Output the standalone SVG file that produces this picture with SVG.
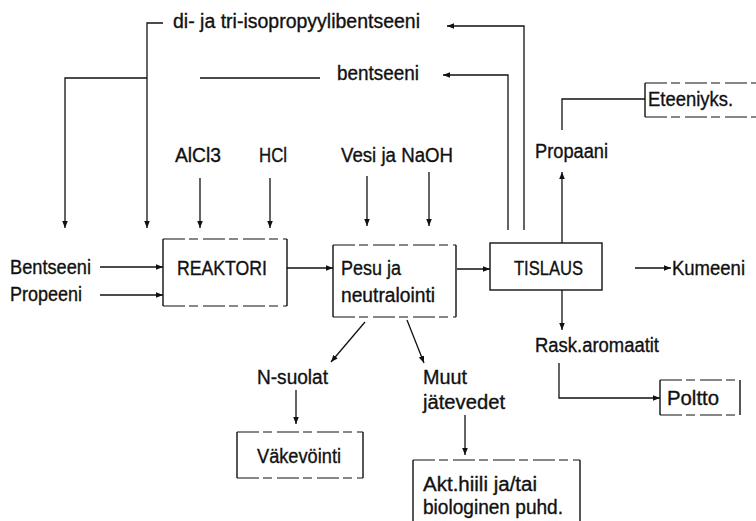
<svg xmlns="http://www.w3.org/2000/svg" width="756" height="521" viewBox="0 0 756 521">
<style>
text{font-family:"Liberation Sans",Arial,sans-serif;font-size:20px;fill:#111;stroke:#111;stroke-width:0.35}
.c{fill:none;stroke:#111;stroke-width:1.3}
.a{marker-end:url(#ah)}
.side{fill:none;stroke:#111;stroke-width:1.4}
.edge{fill:none;stroke:#111;stroke-width:1.2;stroke-dasharray:22 4 9 5}
.solid{fill:none;stroke:#111;stroke-width:1.4}
</style>
<defs>
<marker id="ah" viewBox="0 0 10 10" refX="10" refY="5" markerWidth="7" markerHeight="7" markerUnits="userSpaceOnUse" orient="auto">
<path d="M0,1 L10,5 L0,9 Z" fill="#111"/>
</marker>
</defs>
<rect width="756" height="521" fill="#fff"/>
<g id="connectors">
<path class="c a" d="M524,230 V26 H447"/>
<path class="c a" d="M163,23 H147 V228"/>
<path class="c a" d="M508,230 V75 H443"/>
<path class="c" d="M320,78 H200"/>
<path class="c a" d="M147,78 H65 V228"/>
<path class="c a" d="M200,178 V228"/>
<path class="c a" d="M270,178 V228"/>
<path class="c a" d="M367,176 V226"/>
<path class="c a" d="M429,172 V226"/>
<path class="c a" d="M100,267 H163"/>
<path class="c a" d="M100,295 H163"/>
<path class="c a" d="M287,268 H333"/>
<path class="c a" d="M457,269 H490"/>
<path class="c a" d="M635,268 H671"/>
<path class="c a" d="M562,243 V172"/>
<path class="c" d="M562,130 V99 H645"/>
<path class="c a" d="M562,290 V330"/>
<path class="c a" d="M559,363 V398 H660"/>
<path class="c a" d="M365,322 L331,362"/>
<path class="c a" d="M407,320 L424,363"/>
<path class="c a" d="M296,390 V424"/>
<path class="c a" d="M465,415 V455"/>
</g>
<g id="reaktori">
<path class="side" d="M163,239 V306 M287,239 V306"/>
<path class="edge" d="M163,239 H287 M163,306 H287"/>
<text x="177" y="275" textLength="90" lengthAdjust="spacingAndGlyphs">REAKTORI</text>
</g>
<g id="pesu">
<path class="side" d="M333,245 V317 M456,245 V317"/>
<path class="edge" d="M333,245 H456 M333,317 H456"/>
<text x="341" y="275" textLength="60" lengthAdjust="spacingAndGlyphs">Pesu ja</text>
<text x="341" y="302" textLength="94" lengthAdjust="spacingAndGlyphs">neutralointi</text>
</g>
<g id="tislaus">
<rect class="solid" x="490" y="243" width="112" height="47"/>
<text x="514" y="275" textLength="69" lengthAdjust="spacingAndGlyphs">TISLAUS</text>
</g>
<g id="eteeniyks">
<path class="side" d="M645,83 V117"/>
<path class="edge" d="M645,83 H760 M645,117 H760"/>
<text x="648" y="106" textLength="85" lengthAdjust="spacingAndGlyphs">Eteeniyks.</text>
</g>
<g id="poltto">
<path class="side" d="M660,380 V415 M740,380 V415"/>
<path class="edge" d="M660,380 H740 M660,415 H740"/>
<text x="667" y="405" textLength="52" lengthAdjust="spacingAndGlyphs">Poltto</text>
</g>
<g id="vakevointi">
<path class="side" d="M237,432 V478 M363,432 V478"/>
<path class="edge" d="M237,432 H363 M237,478 H363"/>
<text x="257" y="463" textLength="84" lengthAdjust="spacingAndGlyphs">Väkevöinti</text>
</g>
<g id="akt">
<path class="side" d="M413,460 V525 M580,460 V525"/>
<path class="edge" d="M413,460 H580"/>
<text x="423" y="491" textLength="114" lengthAdjust="spacingAndGlyphs">Akt.hiili ja/tai</text>
<text x="423" y="514" textLength="140" lengthAdjust="spacingAndGlyphs">biologinen puhd.</text>
</g>
<g id="labels">
<text x="173" y="28" textLength="247" lengthAdjust="spacingAndGlyphs">di- ja tri-isopropyylibentseeni</text>
<text x="337" y="80" textLength="82" lengthAdjust="spacingAndGlyphs">bentseeni</text>
<text x="175" y="162" textLength="46" lengthAdjust="spacingAndGlyphs">AlCl3</text>
<text x="259" y="162" textLength="28" lengthAdjust="spacingAndGlyphs">HCl</text>
<text x="341" y="162" textLength="112" lengthAdjust="spacingAndGlyphs">Vesi ja NaOH</text>
<text x="10" y="274" textLength="81" lengthAdjust="spacingAndGlyphs">Bentseeni</text>
<text x="10" y="301" textLength="72" lengthAdjust="spacingAndGlyphs">Propeeni</text>
<text x="672" y="275" textLength="73" lengthAdjust="spacingAndGlyphs">Kumeeni</text>
<text x="535" y="158" textLength="73" lengthAdjust="spacingAndGlyphs">Propaani</text>
<text x="535" y="352" textLength="124" lengthAdjust="spacingAndGlyphs">Rask.aromaatit</text>
<text x="257" y="384" textLength="71" lengthAdjust="spacingAndGlyphs">N-suolat</text>
<text x="423" y="384" textLength="44" lengthAdjust="spacingAndGlyphs">Muut</text>
<text x="423" y="409" textLength="82" lengthAdjust="spacingAndGlyphs">jätevedet</text>
</g>
</svg>
